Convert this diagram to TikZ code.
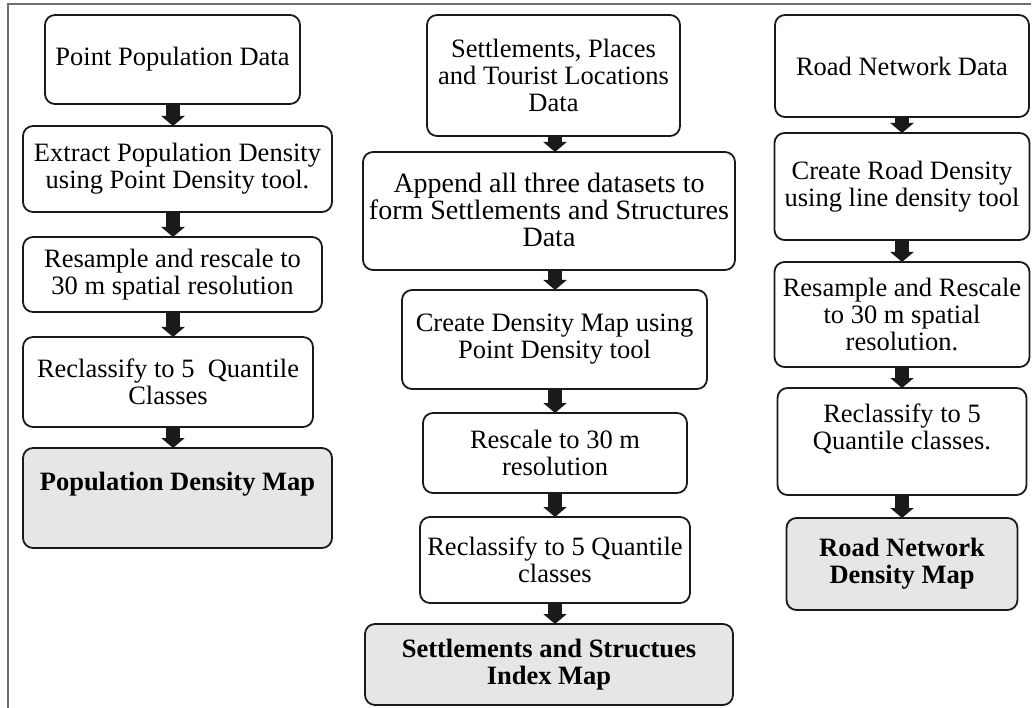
\documentclass[tikz,border=0pt]{standalone}
\usepackage{fontspec}
\setmainfont{Liberation Serif}
\usepackage{xcolor}
\usepackage{tikz}
\usetikzlibrary{arrows.meta,positioning}
\definecolor{inkline}{HTML}{1A1A1A}
\definecolor{mapgray}{HTML}{E6E6E6}
\definecolor{framegray}{HTML}{6E6E6E}

\begin{document}
\begin{tikzpicture}[x=1pt,y=-1pt,font=\fontsize{26.5}{27}\selectfont,
  box/.style={draw=inkline,fill=white,rounded corners=10pt,line width=1.8pt,align=center,inner sep=3pt,outer sep=0pt},
  mapbox/.style={box,fill=mapgray,font=\fontsize{26.5}{27}\selectfont\bfseries},
  blk/.style={-{Triangle[length=10pt,width=23pt]},line width=14pt,inkline}]
\useasboundingbox (0,0) rectangle (1033,708);
\draw[framegray,line width=1.2pt] (8,708) |- (1031,4);
% left column: population
\coordinate (lx) at (173,0);
\node[box,minimum width=255pt,minimum height=89pt] (pp) at (172.5,59.5) {Point Population Data};
\node[box,minimum width=309pt,minimum height=86pt,below=22pt of pp,xshift=5pt] (ex) {Extract Population Density\\using Point Density tool.};
\node[box,minimum width=299pt,minimum height=75pt,below=25pt of ex,xshift=-5pt] (rs) {Resample and rescale to\\30 m spatial resolution};
\node[box,minimum width=290pt,minimum height=90pt,below=25pt of rs,xshift=-4.5pt] (rc) {Reclassify to 5\ \ Quantile\\Classes};
\node[mapbox,minimum width=309pt,minimum height=100pt,text depth=34pt,below=21pt of rc,xshift=9.5pt] (pdm) {Population Density Map};
\draw[blk] (pp.south -| lx) -- (ex.north -| lx);
\draw[blk] (ex.south -| lx) -- (rs.north -| lx);
\draw[blk] (rs.south -| lx) -- (rc.north -| lx);
\draw[blk] (rc.south -| lx) -- (pdm.north -| lx);
% middle column: settlements
\coordinate (mx) at (555,0);
\node[box,minimum width=253pt,minimum height=121pt] (sp) at (553.5,75.5) {Settlements, Places\\and Tourist Locations\\Data};
\node[box,minimum width=372pt,minimum height=118pt,font=\fontsize{28}{27}\selectfont,text depth=2pt,below=16pt of sp,xshift=-4.5pt] (ap) {Append all three datasets to\\form Settlements and Structures\\Data};
\node[box,minimum width=305pt,minimum height=99pt,below=20pt of ap,xshift=5.5pt] (cd) {Create Density Map using\\Point Density tool};
\node[box,minimum width=264pt,minimum height=80pt,below=24pt of cd,xshift=0.5pt] (rt) {Rescale to 30 m\\resolution};
\node[box,minimum width=270pt,minimum height=86pt,below=24pt of rt] (rq) {Reclassify to 5 Quantile\\classes};
\node[mapbox,minimum width=368pt,minimum height=81pt,below=21pt of rq,xshift=-6pt] (ssm) {Settlements and Structues\\Index Map};
\draw[blk] (sp.south -| mx) -- (ap.north -| mx);
\draw[blk] (ap.south -| mx) -- (cd.north -| mx);
\draw[blk] (cd.south -| mx) -- (rt.north -| mx);
\draw[blk] (rt.south -| mx) -- (rq.north -| mx);
\draw[blk] (rq.south -| mx) -- (ssm.north -| mx);
% right column: roads
\coordinate (rx) at (902,0);
\node[box,minimum width=254pt,minimum height=102pt] (rn) at (902,66) {Road Network Data};
\node[box,minimum width=255pt,minimum height=107pt,below=16pt of rn] (cr) {Create Road Density\\using line density tool};
\node[box,minimum width=255pt,minimum height=105pt,below=22pt of cr] (rr) {Resample and Rescale\\to 30 m spatial\\resolution.};
\node[box,minimum width=249pt,minimum height=107pt,text depth=30pt,below=21pt of rr] (rq5) {Reclassify to 5\\Quantile classes.};
\node[mapbox,minimum width=231pt,minimum height=92pt,below=23pt of rq5] (rdm) {Road Network\\Density Map};
\draw[blk] (rn.south -| rx) -- (cr.north -| rx);
\draw[blk] (cr.south -| rx) -- (rr.north -| rx);
\draw[blk] (rr.south -| rx) -- (rq5.north -| rx);
\draw[blk] (rq5.south -| rx) -- (rdm.north -| rx);
\end{tikzpicture}
\end{document}
